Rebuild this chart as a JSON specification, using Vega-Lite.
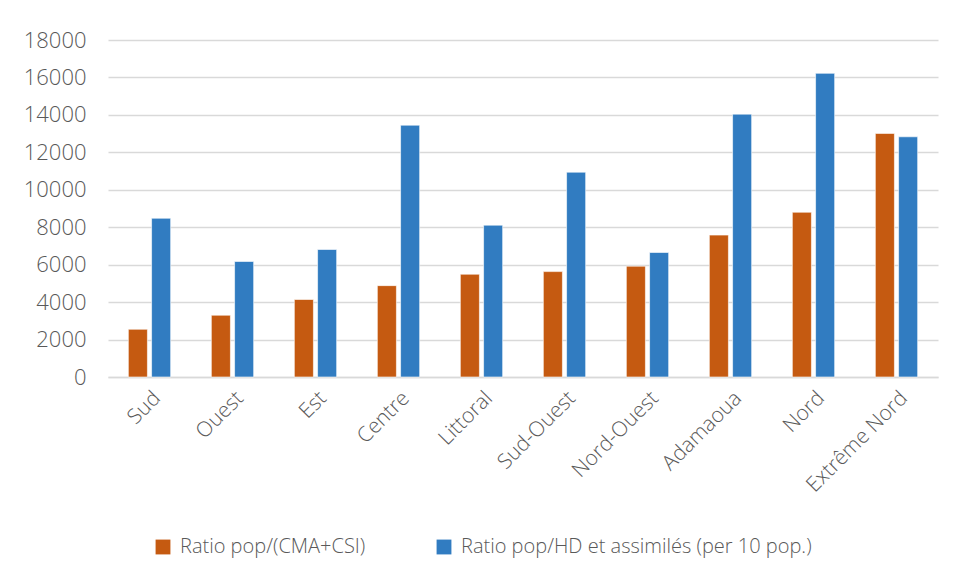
{
  "$schema": "https://vega.github.io/schema/vega-lite/v6.json",
  "autosize": {"type": "none"},
  "width": 830,
  "height": 337,
  "padding": {"left": 108, "top": 40, "right": 17, "bottom": 202},
  "background": "white",
  "config": {
    "view": {"stroke": null},
    "font": "Open Sans",
    "axis": {"labelFont": "Open Sans", "labelColor": "#595959", "labelFontSize": 22, "labelFontWeight": 300},
    "legend": {"labelFont": "Open Sans", "labelColor": "#595959", "labelFontSize": 20, "labelFontWeight": 300}
  },
  "data": {
    "values": [
      {"region": "Sud", "series": "Ratio pop/(CMA+CSI)", "value": 2550},
      {"region": "Sud", "series": "Ratio pop/HD et assimilés (per 10 pop.)", "value": 8480},
      {"region": "Ouest", "series": "Ratio pop/(CMA+CSI)", "value": 3300},
      {"region": "Ouest", "series": "Ratio pop/HD et assimilés (per 10 pop.)", "value": 6170},
      {"region": "Est", "series": "Ratio pop/(CMA+CSI)", "value": 4140},
      {"region": "Est", "series": "Ratio pop/HD et assimilés (per 10 pop.)", "value": 6810},
      {"region": "Centre", "series": "Ratio pop/(CMA+CSI)", "value": 4880},
      {"region": "Centre", "series": "Ratio pop/HD et assimilés (per 10 pop.)", "value": 13450},
      {"region": "Littoral", "series": "Ratio pop/(CMA+CSI)", "value": 5490},
      {"region": "Littoral", "series": "Ratio pop/HD et assimilés (per 10 pop.)", "value": 8110},
      {"region": "Sud-Ouest", "series": "Ratio pop/(CMA+CSI)", "value": 5630},
      {"region": "Sud-Ouest", "series": "Ratio pop/HD et assimilés (per 10 pop.)", "value": 10940},
      {"region": "Nord-Ouest", "series": "Ratio pop/(CMA+CSI)", "value": 5920},
      {"region": "Nord-Ouest", "series": "Ratio pop/HD et assimilés (per 10 pop.)", "value": 6650},
      {"region": "Adamaoua", "series": "Ratio pop/(CMA+CSI)", "value": 7580},
      {"region": "Adamaoua", "series": "Ratio pop/HD et assimilés (per 10 pop.)", "value": 14040},
      {"region": "Nord", "series": "Ratio pop/(CMA+CSI)", "value": 8800},
      {"region": "Nord", "series": "Ratio pop/HD et assimilés (per 10 pop.)", "value": 16220},
      {"region": "Extrême Nord", "series": "Ratio pop/(CMA+CSI)", "value": 13010},
      {"region": "Extrême Nord", "series": "Ratio pop/HD et assimilés (per 10 pop.)", "value": 12830}
    ]
  },
  "mark": {"type": "bar", "stroke": "white", "strokeWidth": 0.6},
  "encoding": {
    "x": {
      "field": "region", "type": "nominal", "sort": null,
      "scale": {"paddingInner": 0.49, "paddingOuter": 0.245},
      "axis": {"title": null, "labelAngle": -45, "ticks": false, "domain": true, "domainColor": "#d9d9d9", "domainWidth": 1.5, "labelPadding": 10, "labelFontSize": 21}
    },
    "xOffset": {
      "field": "series", "type": "nominal",
      "sort": ["Ratio pop/(CMA+CSI)", "Ratio pop/HD et assimilés (per 10 pop.)"],
      "scale": {"paddingInner": 0.18}
    },
    "y": {
      "field": "value", "type": "quantitative",
      "scale": {"domain": [0, 18000], "nice": false},
      "axis": {"title": null, "values": [0, 2000, 4000, 6000, 8000, 10000, 12000, 14000, 16000, 18000], "format": "d", "ticks": false, "domain": false, "gridColor": "#d9d9d9", "gridWidth": 1.5, "labelPadding": 22}
    },
    "color": {
      "field": "series", "type": "nominal",
      "scale": {"domain": ["Ratio pop/(CMA+CSI)", "Ratio pop/HD et assimilés (per 10 pop.)"], "range": ["#C55A11", "#317CC1"]},
      "legend": {"title": null, "orient": "none", "direction": "horizontal", "legendX": 45, "legendY": 497, "symbolType": "square", "symbolSize": 220, "symbolStrokeWidth": 0, "columnPadding": 68, "labelOffset": 7, "labelLimit": 0}
    }
  }
}
